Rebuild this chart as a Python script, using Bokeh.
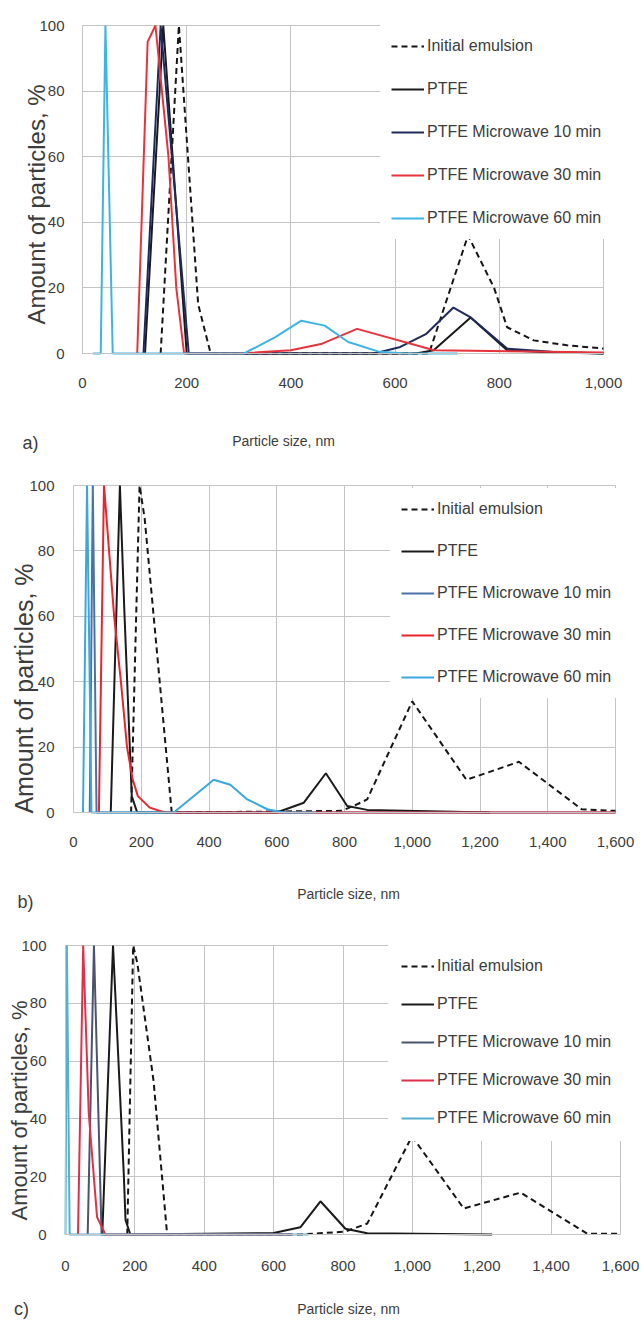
import math
from bokeh.plotting import figure
from bokeh.layouts import column
from bokeh.models import Range1d, FixedTicker, NumeralTickFormatter, Legend, LegendItem, Label
from bokeh.embed import file_html
from bokeh.resources import INLINE

series_names = ["Initial emulsion", "PTFE", "PTFE Microwave 10 min",
                "PTFE Microwave 30 min", "PTFE Microwave 60 min"]
x_label = "Particle size, nm"
y_label = "Amount of particles, %"
y_ticks = [0, 20, 40, 60, 80, 100]

# ---------------- panel a ----------------
a_x_ticks = [0, 200, 400, 600, 800, 1000]
a_init_x = [150, 185, 222, 246, 665, 740, 790, 815, 866, 930, 1000]
a_init_y = [0, 100, 15, 0, 0, 36, 20, 8, 4, 2.5, 1.5]
a_ptfe_x = [120, 155, 200, 640, 674, 745, 815, 900, 1000]
a_ptfe_y = [0, 100, 0, 0, 1, 11, 1, 0.3, 0]
a_m10_x = [117, 150, 204, 560, 610, 660, 712, 745, 815, 900, 1000]
a_m10_y = [0, 100, 0, 0, 2, 6, 14, 11, 1.5, 0.5, 0]
a_m30_x = [105, 125, 140, 165, 180, 195, 300, 400, 460, 527, 675, 1000]
a_m30_y = [0, 95, 100, 60, 20, 0, 0, 1, 3, 7.5, 1, 0.3]
a_m60_x = [20, 35, 44, 58, 310, 370, 420, 465, 510, 570, 620, 720]
a_m60_y = [0, 0, 100, 0, 0, 5, 10, 8.5, 3.5, 0.5, 0, 0]

# ---------------- panel b ----------------
b_x_ticks = [0, 200, 400, 600, 800, 1000, 1200, 1400, 1600]
b_init_x = [170, 195, 210, 290, 790, 827, 867, 1000, 1160, 1315, 1500, 1600]
b_init_y = [0, 100, 90, 0, 0.5, 2, 4, 34, 10, 15.5, 1, 0.5]
b_ptfe_x = [110, 137, 150, 172, 188, 600, 680, 745, 808, 867, 1230]
b_ptfe_y = [0, 100, 62, 5, 0, 0, 3, 12, 2, 0.8, 0]
b_m10_x = [48, 57, 68, 1600]
b_m10_y = [0, 100, 0, 0]
b_m30_x = [75, 90, 105, 120, 140, 158, 175, 190, 225, 270, 1600]
b_m30_y = [0, 100, 80, 60, 40, 20, 10, 5, 1.5, 0, 0]
b_m60_x = [28, 40, 53, 296, 414, 463, 513, 572, 620, 710]
b_m60_y = [0, 100, 0, 0, 10, 8.5, 4, 1, 0, 0]

# ---------------- panel c ----------------
c_x_ticks = [0, 200, 400, 600, 800, 1000, 1200, 1400, 1600]
c_init_x = [178, 195, 207, 254, 293, 677, 807, 870, 999, 1148, 1312, 1504, 1600]
c_init_y = [0, 100, 94, 53, 0, 0, 1, 3.8, 34, 9, 14.5, 0.3, 0.3]
c_ptfe_x = [106, 137, 168, 173, 187, 600, 677, 735, 807, 870, 1230]
c_ptfe_y = [0, 100, 21, 5, 0, 0.5, 2.5, 11.5, 2, 0.4, 0]
c_m10_x = [64, 82, 104, 650]
c_m10_y = [0, 100, 0, 0]
c_m30_x = [36, 51, 67, 91, 115, 650]
c_m30_y = [0, 100, 42, 6, 0, 0]
c_m60_x = [0, 4, 12, 700]
c_m60_y = [0, 100, 0, 0]

FONT = "'Liberation Sans', Arial, sans-serif"
TXT = "#3c3c3c"
GRID = "#c4c4c4"
W = 643


def panel(tag, xmax, xticks, series, colors, g):
    # g: pixel geometry in page coordinates
    top, H = g["top"], g["h"]
    x0, x1 = g["x0"], g["x1"]                  # page px of x=0 and x=xmax
    y100, y0 = g["y100"] - top, g["y0"] - top  # local px of y=100 and y=0
    sx = (x1 - x0) / xmax
    sy = (y0 - y100) / 100.0
    xr = Range1d(-x0 / sx, (W - x0) / sx)
    yr = Range1d(-(H - y0) / sy, 100 + y100 / sy)

    def dx(px):
        return (px - x0) / sx

    def dy(py):
        return (y0 - (py - top)) / sy

    p = figure(width=W, height=H, output_backend="svg", toolbar_location=None,
               x_range=xr, y_range=yr, min_border=0,
               min_border_left=0, min_border_right=0, min_border_top=0, min_border_bottom=0)
    p.outline_line_color = None
    p.background_fill_color = "white"
    p.border_fill_color = "white"

    p.xaxis.fixed_location = 0
    p.yaxis.fixed_location = 0
    p.xaxis.bounds = (0, xmax)
    p.yaxis.bounds = (0, 100)
    p.xaxis.ticker = FixedTicker(ticks=xticks)
    p.yaxis.ticker = FixedTicker(ticks=y_ticks)
    p.xaxis.formatter = NumeralTickFormatter(format="0,0")
    for ax in (p.xaxis[0], p.yaxis[0]):
        ax.major_tick_line_color = None
        ax.minor_tick_line_color = None
        ax.axis_line_color = GRID
        ax.major_label_text_font = FONT
        ax.major_label_text_font_size = "15px"
        ax.major_label_text_color = TXT
    p.xaxis.major_label_standoff = g["xs"]
    p.yaxis.major_label_standoff = g["ys"]

    p.xgrid.ticker = FixedTicker(ticks=xticks)
    p.ygrid.ticker = FixedTicker(ticks=y_ticks)
    p.xgrid.grid_line_color = GRID
    p.ygrid.grid_line_color = GRID
    p.xgrid.cross_bounds = (0, 100)
    p.ygrid.cross_bounds = (0, xmax)
    p.xgrid.bounds = (0, xmax)
    p.ygrid.bounds = (0, 100)

    items = []
    for i, ((xs, ys), col) in enumerate(zip(series, colors)):
        dash = "6 4" if i == 0 else "solid"
        r = p.line(xs, ys, line_color=col, line_width=2, line_dash=dash)
        items.append(LegendItem(label=series_names[i], renderers=[r]))

    pad = g["pad"]
    item_h = 20
    sp = g["sp"]
    box_top = g["leg_y"] - item_h / 2 - pad - top
    box_h = 2 * pad + 5 * item_h + 4 * sp
    box_left = g["leg_x"] - pad
    leg = Legend(items=items, location=(box_left, H - (box_top + box_h)), padding=pad,
                 glyph_width=33, glyph_height=item_h, label_height=item_h,
                 spacing=sp, label_standoff=3, margin=0,
                 label_text_font=FONT, label_text_font_size="16px",
                 label_text_color=TXT, border_line_color="white", border_line_width=1,
                 background_fill_color="white", background_fill_alpha=1.0)
    p.add_layout(leg)

    lx, ly = g["xl"]
    p.add_layout(Label(x=dx(lx), y=dy(ly), text=x_label, text_font=FONT, text_font_size="14px",
                       text_color=TXT, text_align="center", text_baseline="middle"))
    tx, ty = g["tag"]
    p.add_layout(Label(x=dx(tx), y=dy(ty), text=tag, text_font=FONT, text_font_size="18px",
                       text_color=TXT, text_align="center", text_baseline="middle"))
    yx, yy = g["yl"]
    p.add_layout(Label(x=dx(yx), y=dy(yy), text=y_label, text_font=FONT, text_font_size=g["yfs"],
                       text_color=TXT, text_align="center", text_baseline="middle",
                       angle=math.pi / 2))
    return p


pa = panel("a)", 1000, a_x_ticks,
           [(a_init_x, a_init_y), (a_ptfe_x, a_ptfe_y), (a_m10_x, a_m10_y),
            (a_m30_x, a_m30_y), (a_m60_x, a_m60_y)],
           ["#151515", "#1a1a1a", "#1f2a5c", "#e8333d", "#3cb4e6"],
           dict(top=0, h=462, x0=82, x1=603, y100=25, y0=353, xs=18, ys=12,
                leg_x=390, leg_y=47, sp=23, pad=10,
                xl=(283, 440), tag=(30, 442), yl=(36, 204), yfs="24px"))

pb = panel("b)", 1600, b_x_ticks,
           [(b_init_x, b_init_y), (b_ptfe_x, b_ptfe_y), (b_m10_x, b_m10_y),
            (b_m30_x, b_m30_y), (b_m60_x, b_m60_y)],
           ["#151515", "#1a1a1a", "#4a72a8", "#e8252d", "#3aa8e0"],
           dict(top=462, h=453, x0=73, x1=615, y100=485, y0=812, xs=18, ys=13,
                leg_x=400, leg_y=510, sp=22, pad=10,
                xl=(348, 893), tag=(25, 901), yl=(23, 688), yfs="25px"))

pc = panel("c)", 1600, c_x_ticks,
           [(c_init_x, c_init_y), (c_ptfe_x, c_ptfe_y), (c_m10_x, c_m10_y),
            (c_m30_x, c_m30_y), (c_m60_x, c_m60_y)],
           ["#151515", "#1a1a1a", "#4a5470", "#e0304a", "#55b0cc"],
           dict(top=915, h=410, x0=65, x1=620, y100=945, y0=1234, xs=20, ys=13,
                leg_x=400, leg_y=967, sp=18, pad=12,
                xl=(348, 1308), tag=(21, 1308), yl=(19, 1110), yfs="22px"))

layout = column(pa, pb, pc, spacing=0)
open("out.html", "w").write(file_html(layout, INLINE))
